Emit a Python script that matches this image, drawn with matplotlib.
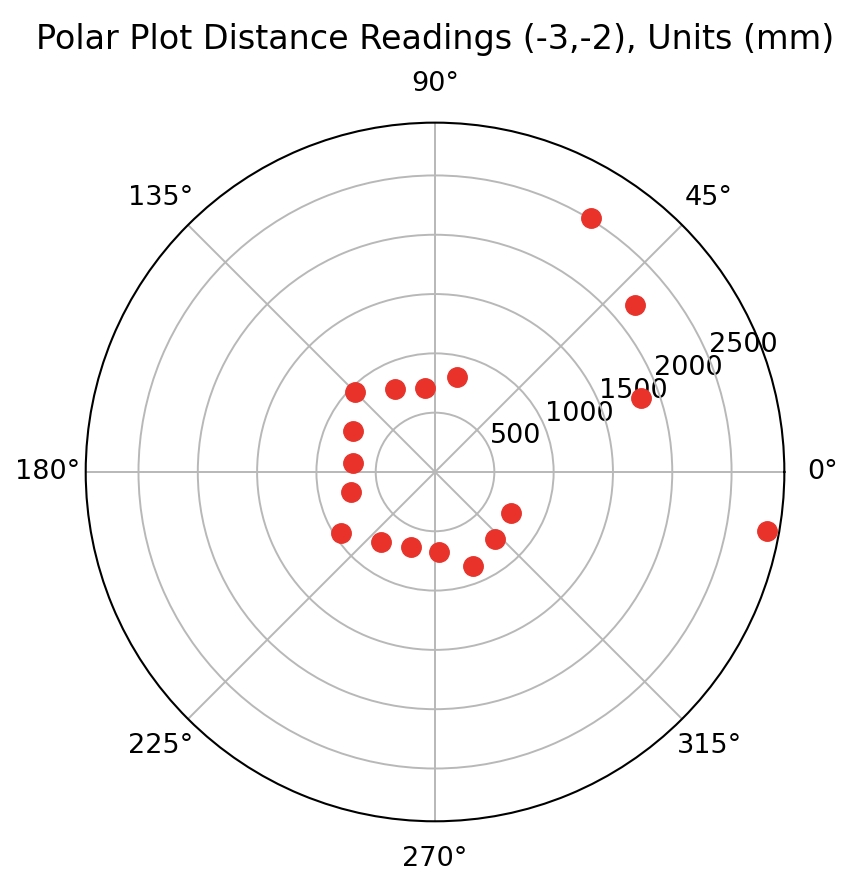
import numpy as np
import matplotlib

matplotlib.use("Agg")
import matplotlib.pyplot as plt

# Distance readings taken from position (-3,-2)
angles_deg = [19.8, 39.8, 58.5, 77.1, 96.8, 115.8, 134.9, 153.5, 174.0,
              193.2, 213.0, 232.2, 252.1, 272.9, 291.9, 311.7, 331.5, 349.9]
distances_mm = [1846, 2193, 2515, 819, 716, 775, 955, 775, 698,
                727, 948, 743, 667, 673, 851, 760, 729, 2840]
r_max = 2945

fig = plt.figure(figsize=(8.52, 8.90), dpi=100)
ax = fig.add_axes([0.1006, 0.0772, 0.82, 0.785], projection="polar")

theta = np.deg2rad(angles_deg)
ax.plot(theta, distances_mm, "o", color="#e8322a", markersize=14, zorder=3)

ax.set_ylim(0, r_max)
ax.set_rticks([500, 1000, 1500, 2000, 2500])
ax.grid(True, color="#b8b8b8", linewidth=1.4)
ax.tick_params(labelsize=19.5)
ax.tick_params(axis="x", pad=17)
ax.spines["polar"].set_linewidth(1.5)

fig.suptitle("Polar Plot Distance Readings (-3,-2), Units (mm)",
             fontsize=24, x=435 / 852, y=1 - 40 / 890, va="center")

fig.savefig("out.png", dpi=100)
